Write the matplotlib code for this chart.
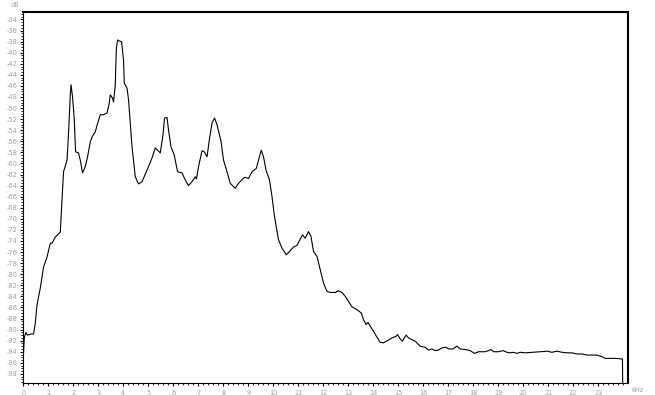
import numpy as np
import matplotlib
matplotlib.use("Agg")
import matplotlib.pyplot as plt
from matplotlib.ticker import MultipleLocator

freq_khz = [0.00, 0.04, 0.10, 0.16, 0.30, 0.41, 0.48, 0.55, 0.68, 0.75, 0.81, 0.95,
            1.08, 1.15, 1.28, 1.48, 1.52, 1.55, 1.57, 1.61, 1.75, 1.81, 1.88, 1.91,
            1.97, 2.04, 2.09, 2.21, 2.28, 2.37, 2.48, 2.57, 2.68, 2.75, 2.88, 2.95,
            3.08, 3.21, 3.35, 3.44, 3.48, 3.57, 3.61, 3.68, 3.72, 3.77, 3.84, 3.93,
            4.01, 4.04, 4.15, 4.21, 4.35, 4.48, 4.61, 4.75, 4.95, 5.15, 5.28, 5.37,
            5.48, 5.59, 5.65, 5.75, 5.81, 5.91, 6.04, 6.17, 6.35, 6.48, 6.61, 6.75,
            6.88, 6.93, 7.01, 7.15, 7.24, 7.35, 7.45, 7.55, 7.65, 7.75, 7.91, 8.01,
            8.15, 8.28, 8.48, 8.61, 8.71, 8.85, 9.01, 9.15, 9.32, 9.41, 9.52, 9.61,
            9.71, 9.85, 9.95, 10.05, 10.21, 10.35, 10.52, 10.65, 10.81, 10.95, 11.05,
            11.17, 11.28, 11.41, 11.51, 11.61, 11.75, 11.88, 12.01, 12.15, 12.28,
            12.48, 12.61, 12.75, 12.88, 13.01, 13.15, 13.35, 13.52, 13.61, 13.71,
            13.79, 13.88, 14.01, 14.15, 14.28, 14.41, 14.57, 14.75, 14.92, 14.97,
            15.08, 15.17, 15.24, 15.32, 15.41, 15.55, 15.68, 15.88, 16.08, 16.21,
            16.35, 16.48, 16.61, 16.75, 16.91, 17.01, 17.19, 17.35, 17.48, 17.68,
            17.88, 18.05, 18.21, 18.48, 18.61, 18.72, 18.81, 19.01, 19.19, 19.35,
            19.48, 19.61, 19.75, 19.88, 20.08, 20.41, 20.68, 20.95, 21.15, 21.35,
            21.55, 21.75, 21.95, 22.15, 22.35, 22.55, 22.75, 22.95, 23.15, 23.28,
            23.48, 23.75, 23.91, 23.97, 23.98]

level_db = [-95.0, -91.5, -90.5, -91.0, -90.8, -90.8, -88.8, -85.5, -82.5, -80.5, -78.7, -76.9,
            -74.4, -74.4, -73.3, -72.4, -68.9, -66.6, -64.8, -61.5, -59.4, -54.5, -47.6, -45.8,
            -48.0, -52.1, -57.9, -58.1, -59.4, -61.7, -60.6, -58.8, -56.1, -55.2, -54.3, -53.1,
            -51.2, -51.2, -50.9, -49.1, -47.6, -48.2, -48.9, -45.8, -39.5, -37.7, -37.9, -38.0,
            -41.3, -45.5, -46.4, -48.5, -57.0, -62.4, -63.7, -63.3, -61.2, -59.0, -57.2, -57.6,
            -58.1, -54.8, -51.8, -51.7, -54.0, -57.0, -58.5, -61.5, -61.7, -63.0, -64.0, -63.3,
            -62.4, -62.8, -60.6, -57.7, -57.9, -58.8, -55.5, -52.7, -51.8, -53.0, -56.0, -59.4,
            -61.5, -63.6, -64.5, -63.6, -63.1, -62.5, -62.7, -61.5, -60.9, -59.4, -57.6, -58.8,
            -61.2, -63.0, -66.0, -69.6, -73.8, -75.3, -76.5, -75.9, -75.1, -74.8, -73.9,
            -72.9, -73.5, -72.3, -73.2, -75.9, -76.8, -79.2, -81.6, -83.1, -83.3,
            -83.3, -83.0, -83.3, -84.0, -84.9, -85.9, -86.4, -87.0, -88.2, -89.1,
            -88.7, -89.4, -90.3, -91.4, -92.3, -92.4, -92.0, -91.5, -91.2, -90.9,
            -91.7, -92.1, -91.5, -91.0, -91.5, -91.8, -92.1, -93.0, -93.2, -93.7,
            -93.5, -93.8, -93.7, -93.3, -93.2, -93.5, -93.5, -93.0, -93.5, -93.6,
            -93.8, -94.3, -94.0, -94.0, -93.8, -93.6, -94.0, -94.0, -93.8, -94.1,
            -94.2, -94.1, -94.3, -94.1, -94.2, -94.1, -94.0, -93.9, -94.1, -93.9,
            -94.1, -94.2, -94.2, -94.4, -94.4, -94.6, -94.6, -94.6, -94.9, -95.2,
            -95.2, -95.2, -95.3, -95.3, -99.7]

x_ticks = list(range(0, 24))
y_ticks = list(range(-34, -99, -2))

fig = plt.figure(figsize=(6.55, 3.95), dpi=100)
ax = fig.add_axes([23.3 / 655, 11.7 / 395, (627.7 - 23.3) / 655, (383.3 - 11.7) / 395])

ax.plot(freq_khz, level_db, color="black", linewidth=0.8)

ax.set_xlim(0, 24.18)
ax.set_ylim(-99.7, -32.6)

ax.set_xticks(x_ticks)
ax.set_xticklabels([str(t) for t in x_ticks])
ax.set_yticks(y_ticks)
ax.set_yticklabels([str(t) for t in y_ticks])
ax.xaxis.set_minor_locator(MultipleLocator(0.2))
ax.yaxis.set_minor_locator(MultipleLocator(0.5))

ax.tick_params(axis="both", which="major", labelsize=4.8, labelcolor="#a0a0a0",
               length=2.5, width=0.8, color="black", pad=2)
ax.tick_params(axis="both", which="minor", length=1.5, width=0.6, color="black")

for side in ["top", "right"]:
    ax.spines[side].set_linewidth(1.5)
for side in ["left", "bottom"]:
    ax.spines[side].set_linewidth(0.8)

fig.text(15 / 655, 1 - 5 / 395, "dB", fontsize=4.8, color="#a0a0a0", ha="center", va="center")
fig.text(637 / 655, 1 - 390 / 395, "kHz", fontsize=4.8, color="#a0a0a0", ha="center", va="center")

fig.savefig("out.png", dpi=100)
